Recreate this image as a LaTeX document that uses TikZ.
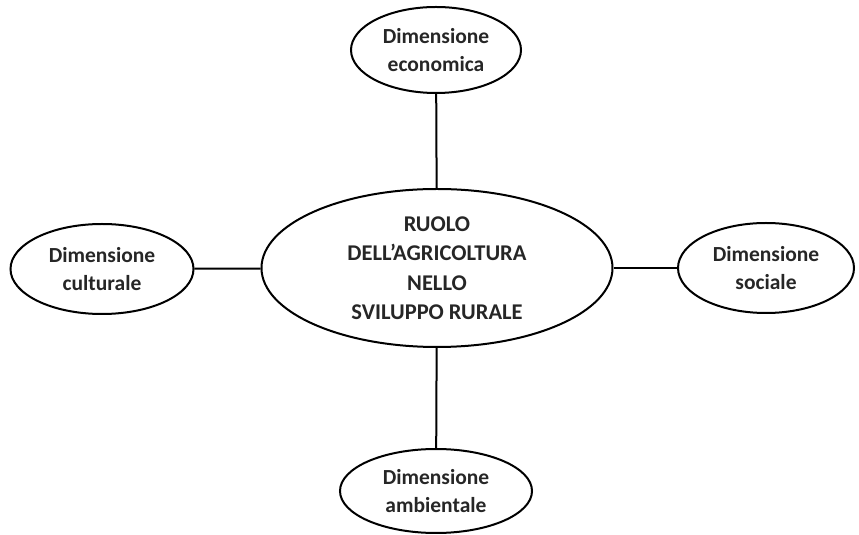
\documentclass[tikz,border=0pt]{standalone}
\usepackage{fontspec}
\setmainfont{Carlito}
\usetikzlibrary{shapes.geometric}

\begin{document}
\begin{tikzpicture}[x=1pt, y=1pt, line width=2pt,
    every node/.style={font=\bfseries\fontsize{21.5}{28.5}\selectfont, align=center, text=black!85},
    dim/.style={ellipse, draw, inner sep=0pt}]
            \useasboundingbox (0,0) rectangle (859,535);
            \node[dim, minimum width=351, minimum height=158, font=\bfseries\fontsize{22.5}{29.5}\selectfont] at (437, 267)  (ruolo) {RUOLO\\DELL’AGRICOLTURA\\NELLO\\SVILUPPO RURALE};
            \node[dim, minimum width=170, minimum height=86] at (436, 485)   (eco) {Dimensione\\economica};
            \node[dim, minimum width=183, minimum height=90] at (102, 266)   (cult) {Dimensione\\culturale};
            \node[dim, minimum width=176, minimum height=90] at (766, 267)   (soc) {Dimensione\\sociale};
            \node[dim, minimum width=192, minimum height=84] at (436, 44)    (amb) {Dimensione\\ambientale};

            \draw (eco) -- (ruolo);
            \draw (cult) -- (ruolo);
            \draw (soc) -- (ruolo);
            \draw (amb) -- (ruolo);
        \end{tikzpicture}
\end{document}
